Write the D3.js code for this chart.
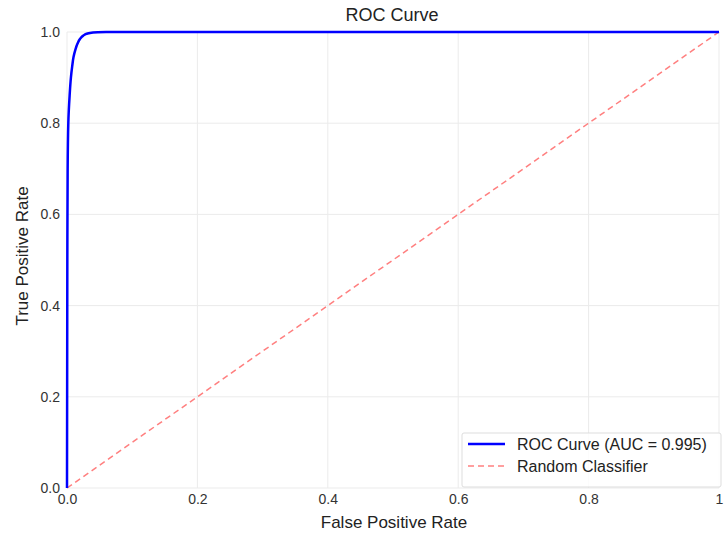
<!DOCTYPE html>
<html>
<head>
<meta charset="utf-8">
<script src="https://cdn.jsdelivr.net/npm/d3@7"></script>
<style>
  body { margin: 0; background: #fff; }
  text { font-family: "Liberation Sans", Arial, sans-serif; }
</style>
</head>
<body>
<div id="chart"></div>
<script>
// ROC data
const fpr = [0, 0.0005, 0.001, 0.002, 0.004, 0.006, 0.008, 0.01, 0.013, 0.016, 0.02, 0.025, 0.03, 0.04, 0.06, 0.1, 0.3, 0.6, 1.0];
const tpr = [0, 0.5, 0.7, 0.8, 0.86, 0.9, 0.925, 0.945, 0.962, 0.974, 0.985, 0.992, 0.996, 0.999, 1.0, 1.0, 1.0, 1.0, 1.0];
const diagX = [0, 1];
const diagY = [0, 1];
const ticks = [0, 0.2, 0.4, 0.6, 0.8, 1.0];
const legendItems = ["ROC Curve (AUC = 0.995)", "Random Classifier"];

const W = 725, H = 533;
const svg = d3.select("#chart").append("svg").attr("width", W).attr("height", H);

const x = d3.scaleLinear().domain([0, 1]).range([67, 719]);
const y = d3.scaleLinear().domain([0, 1]).range([488, 32]);

// grid
svg.append("g").selectAll("line").data(ticks).join("line")
  .attr("x1", d => x(d)).attr("x2", d => x(d)).attr("y1", y(0)).attr("y2", y(1))
  .attr("stroke", "#ebebeb").attr("stroke-width", 1);
svg.append("g").selectAll("line").data(ticks).join("line")
  .attr("y1", d => y(d)).attr("y2", d => y(d)).attr("x1", x(0)).attr("x2", x(1))
  .attr("stroke", "#ebebeb").attr("stroke-width", 1);

// axes (labels only)
const xAxis = svg.append("g").attr("transform", `translate(0,${y(0)})`)
  .call(d3.axisBottom(x).tickValues(ticks).tickFormat(d => d === 1 ? "1" : d3.format(".1f")(d)).tickSize(0).tickPadding(6));
const yAxis = svg.append("g").attr("transform", `translate(${x(0)},0)`)
  .call(d3.axisLeft(y).tickValues(ticks).tickFormat(d3.format(".1f")).tickSize(0).tickPadding(7));
[xAxis, yAxis].forEach(a => {
  a.select(".domain").remove();
  a.selectAll("text").attr("font-size", 14).attr("fill", "#333")
    .attr("font-family", "Liberation Sans, Arial, sans-serif");
});

// lines
const line = d3.line().x(d => x(d[0])).y(d => y(d[1]));
svg.append("path").datum(diagX.map((v, i) => [v, diagY[i]]))
  .attr("d", line).attr("fill", "none").attr("stroke", "#ff0000").attr("stroke-opacity", 0.5)
  .attr("stroke-width", 1.5).attr("stroke-dasharray", "6,4");
svg.append("path").datum(fpr.map((v, i) => [v, tpr[i]]))
  .attr("d", line.curve(d3.curveMonotoneY)).attr("fill", "none").attr("stroke", "#0000ff")
  .attr("stroke-width", 2.5);

// title & axis labels
svg.append("text").attr("x", 392).attr("y", 21).attr("text-anchor", "middle")
  .attr("font-size", 18).attr("fill", "#222").text("ROC Curve");
svg.append("text").attr("x", 394).attr("y", 528).attr("text-anchor", "middle")
  .attr("font-size", 17).attr("fill", "#222").text("False Positive Rate");
svg.append("text").attr("transform", "translate(28,256) rotate(-90)").attr("text-anchor", "middle")
  .attr("font-size", 17).attr("fill", "#222").text("True Positive Rate");

// legend
const lg = svg.append("g").attr("transform", "translate(462,433)");
lg.append("rect").attr("width", 259).attr("height", 54).attr("rx", 2)
  .attr("fill", "#fff").attr("fill-opacity", 0.85).attr("stroke", "#dddddd");
const rows = lg.selectAll("g").data(legendItems).join("g")
  .attr("transform", (d, i) => `translate(6,${11 + i * 22})`);
rows.append("line").attr("x1", 0).attr("x2", 37).attr("y1", 0).attr("y2", 0)
  .attr("stroke", (d, i) => i === 0 ? "#0000ff" : "#ff0000")
  .attr("stroke-opacity", (d, i) => i === 0 ? 1 : 0.5)
  .attr("stroke-width", (d, i) => i === 0 ? 2.5 : 1.5)
  .attr("stroke-dasharray", (d, i) => i === 0 ? null : "6,4");
rows.append("text").attr("x", 49).attr("y", 6).attr("font-size", 16).attr("fill", "#222").text(d => d);
</script>
</body>
</html>
